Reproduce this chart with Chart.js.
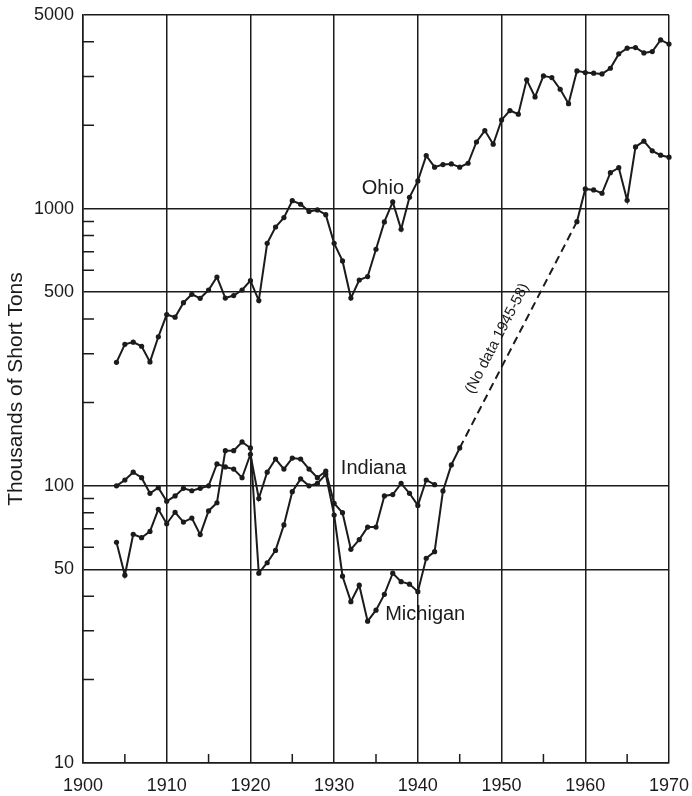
<!DOCTYPE html>
<html>
<head>
<meta charset="utf-8">
<script src="https://cdn.jsdelivr.net/npm/chart.js@4/dist/chart.umd.min.js"></script>
<style>
  html, body { margin: 0; padding: 0; background: #fff; }
  #wrap { width: 692px; height: 796px; position: relative; }
</style>
</head>
<body>
<div id="wrap"><canvas id="c"></canvas></div>
<script>
// Annual output, thousands of short tons
const years = [
  1904, 1905, 1906, 1907, 1908, 1909, 1910, 1911, 1912, 1913,
  1914, 1915, 1916, 1917, 1918, 1919, 1920, 1921, 1922, 1923,
  1924, 1925, 1926, 1927, 1928, 1929, 1930, 1931, 1932, 1933,
  1934, 1935, 1936, 1937, 1938, 1939, 1940, 1941, 1942, 1943,
  1944, 1945, 1946, 1947, 1948, 1949, 1950, 1951, 1952, 1953,
  1954, 1955, 1956, 1957, 1958, 1959, 1960, 1961, 1962, 1963,
  1964, 1965, 1966, 1967, 1968, 1969, 1970
];

const ohio = [
  279, 324, 330, 319, 280, 345, 415, 406, 458, 491,
  475, 509, 567, 476, 486, 509, 550, 466, 750, 859,
  929, 1069, 1038, 977, 990, 952, 750, 648, 476, 553,
  569, 714, 896, 1058, 843, 1100, 1260, 1555, 1412, 1443,
  1451, 1412, 1459, 1741, 1914, 1709, 2091, 2260, 2193, 2917,
  2531, 3015, 2973, 2698, 2394, 3143, 3099, 3084, 3064, 3213,
  3620, 3797, 3816, 3650, 3691, 4065, 3927
];

const indiana = [
  100, 105, 112, 107, 94, 98.5, 88, 92, 98, 96,
  98, 100, 120, 117, 115, 107, 130, 90, 112, 125,
  115, 126, 125, 115, 107, 113, 86.5, 80, 59, 64,
  71, 71, 92, 93, 102, 94, 85, 105, 101, null,
  null, null, null, null, null, null, null, null, null, null,
  null, null, null, null, null, null, null, null, null, null,
  null, null, null, null, null, null, null
];

const michigan = [
  62.6, 47.6, 66.9, 65, 68.5, 82.3, 73, 80.3, 74, 76.5,
  66.7, 81.2, 86.9, 134, 134, 144, 137, 48.4, 52.8, 58.5,
  72.3, 95.3, 106, 100, 102, 110, 78.5, 47.2, 38.2, 43.8,
  32.5, 35.6, 40.6, 48.4, 45.1, 44.2, 41.5, 54.8, 57.9, 95.9,
  119, 137, null, null, null, null, null, null, null, null,
  null, null, null, null, null, 898, 1179, 1169, 1137, 1349,
  1406, 1073, 1671, 1753, 1617, 1560, 1534
];

const xTickValues = [1900, 1910, 1920, 1930, 1940, 1950, 1960, 1970];
const xMinorValues = [1905, 1915, 1925, 1935, 1945, 1955, 1965];
const yTickValues = [10, 50, 100, 500, 1000, 5000];
const yMinorValues = [20, 30, 40, 60, 70, 80, 90, 200, 300, 400, 600, 700, 800, 900, 2000, 3000, 4000];

const seriesNames = ['Ohio', 'Indiana', 'Michigan'];
// where each series name sits, in data units (left end of the baseline)
const nameAnchors = [
  { x: 1933.3, y: 1131 },
  { x: 1930.8, y: 110.4 },
  { x: 1936.1, y: 32.8 }
];
const gapNote = '(No data 1945-58)';

const INK = '#1b1b1b';
const FONT = "'Liberation Sans', Arial, sans-serif";

function toPoints(vals) {
  return years.map((x, i) => ({ x: x, y: vals[i] })).filter(p => p.y !== null);
}

function lineDataset(label, vals) {
  return {
    label: label,
    data: toPoints(vals),
    borderColor: INK,
    backgroundColor: INK,
    borderWidth: 2,
    pointRadius: 2.6,
    pointHoverRadius: 2.6,
    pointBorderWidth: 0,
    pointBackgroundColor: INK,
    tension: 0,
    clip: 8,
    spanGaps: true,
    segment: {
      // years without data are bridged with a dashed line
      borderDash: ctx => (ctx.p1.parsed.x - ctx.p0.parsed.x > 1 ? [8, 5] : undefined)
    }
  };
}

const decorations = {
  id: 'decorations',
  afterDatasetsDraw(chart) {
    const ctx = chart.ctx;
    const a = chart.chartArea;
    const xs = chart.scales.x;
    const ys = chart.scales.y;
    ctx.save();

    // inward minor ticks
    ctx.strokeStyle = INK;
    ctx.lineWidth = 1.5;
    ctx.beginPath();
    yMinorValues.forEach(v => {
      const py = ys.getPixelForValue(v);
      ctx.moveTo(a.left, py);
      ctx.lineTo(a.left + 11, py);
    });
    xMinorValues.forEach(v => {
      const px = xs.getPixelForValue(v);
      ctx.moveTo(px, a.bottom);
      ctx.lineTo(px, a.bottom - 9);
    });
    ctx.stroke();

    // series names
    ctx.fillStyle = INK;
    ctx.font = '20px ' + FONT;
    ctx.textAlign = 'left';
    ctx.textBaseline = 'alphabetic';
    seriesNames.forEach((name, i) => {
      ctx.fillText(name, xs.getPixelForValue(nameAnchors[i].x), ys.getPixelForValue(nameAnchors[i].y));
    });

    // note written along the dashed stretch
    chart.data.datasets.forEach(ds => {
      const pts = ds.data;
      for (let i = 1; i < pts.length; i++) {
        if (pts[i].x - pts[i - 1].x > 1) {
          const x0 = xs.getPixelForValue(pts[i - 1].x), y0 = ys.getPixelForValue(pts[i - 1].y);
          const x1 = xs.getPixelForValue(pts[i].x), y1 = ys.getPixelForValue(pts[i].y);
          const ang = Math.atan2(y1 - y0, x1 - x0);
          ctx.save();
          ctx.translate((x0 + x1) / 2, (y0 + y1) / 2);
          ctx.rotate(ang);
          ctx.font = '15px ' + FONT;
          ctx.textAlign = 'center';
          ctx.textBaseline = 'middle';
          ctx.fillText(gapNote, -13, -17);
          ctx.restore();
        }
      }
    });

    ctx.restore();
  }
};

new Chart(document.getElementById('c'), {
  type: 'line',
  data: {
    datasets: [
      lineDataset(seriesNames[0], ohio),
      lineDataset(seriesNames[1], indiana),
      lineDataset(seriesNames[2], michigan)
    ]
  },
  options: {
    responsive: true,
    maintainAspectRatio: false,
    animation: false,
    events: [],
    layout: { padding: { top: 15, right: 23, bottom: 0, left: 0 } },
    plugins: { legend: { display: false }, tooltip: { enabled: false } },
    scales: {
      x: {
        type: 'linear',
        min: 1900,
        max: 1970,
        afterBuildTicks: s => { s.ticks = xTickValues.map(v => ({ value: v })); },
        afterFit: s => { s.height = 33; s.paddingLeft = 0; s.paddingRight = 0; },
        grid: { color: INK, lineWidth: 1.5, drawTicks: false },
        border: { color: INK, width: 1.5 },
        ticks: {
          color: INK,
          padding: 12,
          maxRotation: 0,
          autoSkip: false,
          font: { family: FONT, size: 18 },
          callback: v => String(v)
        }
      },
      y: {
        type: 'logarithmic',
        min: 10,
        max: 5000,
        afterBuildTicks: s => { s.ticks = yTickValues.map(v => ({ value: v })); },
        afterFit: s => { s.width = 83; s.paddingTop = 0; s.paddingBottom = 0; },
        grid: { color: INK, lineWidth: 1.5, drawTicks: false },
        border: { color: INK, width: 1.5 },
        ticks: {
          color: INK,
          padding: 9,
          autoSkip: false,
          font: { family: FONT, size: 18 },
          callback: v => String(v)
        },
        title: {
          display: true,
          text: 'Thousands of Short Tons',
          color: INK,
          font: { family: FONT, size: 21 },
          padding: { top: 4, bottom: 0 }
        }
      }
    }
  },
  plugins: [decorations]
});
</script>
</body>
</html>
